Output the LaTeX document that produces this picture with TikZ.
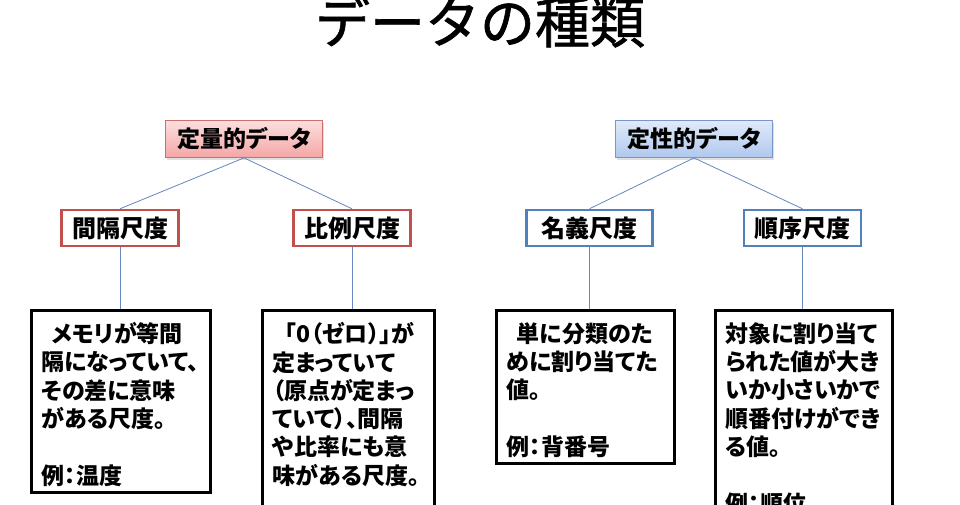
\documentclass[tikz,border=0pt]{standalone}
\usepackage{fontspec}
\newfontfamily\jpfont{Noto Sans CJK JP}[RawFeature=+palt]
\newfontfamily\titlefont{Noto Sans CJK JP}[FakeBold=1.2]
\usepackage{tikz}
\usetikzlibrary{positioning,shadows}
\definecolor{quantedge}{RGB}{205,110,108}
\definecolor{quanttop}{RGB}{252,222,222}
\definecolor{quantbot}{RGB}{244,166,166}
\definecolor{qualedge}{RGB}{120,150,200}
\definecolor{qualtop}{RGB}{224,234,249}
\definecolor{qualbot}{RGB}{176,200,238}
\definecolor{redframe}{RGB}{192,80,77}
\definecolor{blueframe}{RGB}{79,129,189}
\definecolor{linkblue}{RGB}{100,135,190}
\newcommand{\desctext}[3]{\parbox[t][#2][t]{#1}{#3}}
\tikzset{
  titletext/.style={
    anchor=base,
    inner sep=0pt,
    font=\titlefont\fontsize{55}{60}\selectfont
  },
  topbox/.style={
    draw,
    line width=0.8pt,
    minimum width=157pt,
    minimum height=37pt,
    inner sep=0pt,
    drop shadow={shadow xshift=1.5pt, shadow yshift=-2pt, opacity=0.25},
    font=\jpfont\bfseries\fontsize{23}{28}\selectfont
  },
  quantbox/.style={
    topbox,
    draw=quantedge,
    top color=quanttop,
    bottom color=quantbot
  },
  qualbox/.style={
    topbox,
    draw=qualedge,
    top color=qualtop,
    bottom color=qualbot
  },
  scalebox/.style={
    draw,
    line width=2.5pt,
    fill=white,
    minimum width=117pt,
    minimum height=36pt,
    inner sep=0pt,
    font=\jpfont\bfseries\fontsize{24}{28}\selectfont
  },
  descbox/.style={
    draw,
    line width=2.5pt,
    fill=white,
    inner xsep=10pt,
    inner ysep=12pt,
    font=\jpfont\bfseries\fontsize{23}{28.3}\selectfont
  },
  treeline/.style={
    draw=linkblue,
    line width=0.8pt
  }
}
\begin{document}
\begin{tikzpicture}[x=1pt,y=-1pt]
    \useasboundingbox (0,0) rectangle (960,504);
    \node[titletext] (title) at (480,43) {データの種類};

    \node[quantbox] (quant) at (244,139) {定量的データ};
    \node[qualbox] (qual) at (694,139) {定性的データ};

    \node[scalebox, draw=redframe] (interval) at (120,228) {間隔尺度};
    \node[scalebox, draw=redframe] (ratio) at (352,228) {比例尺度};
    \node[scalebox, draw=blueframe, minimum width=126pt] (nominal) at (589.5,228) {名義尺度};
    \node[scalebox, draw=blueframe] (ordinal) at (802.5,228) {順序尺度};

    \node[descbox, below=62pt of interval, xshift=1pt] (intdesc) {\desctext{159pt}{158pt}{%
      \hspace{0.45em}メモリが等間\\
      隔になっていて、\\
      その差に意味\\
      がある尺度。\\[28.3pt]
      例：温度}};
    \node[descbox, below=62pt of ratio, xshift=-3.5pt] (ratdesc) {\desctext{152pt}{191pt}{%
      \hspace{0.55em}「0（ゼロ）」が\\
      定まっていて\\
      （原点が定まっ\\
      ていて）、間隔\\
      や比率にも意\\
      味がある尺度。}};
    \node[descbox, below=62pt of nominal, xshift=-4pt] (nomdesc) {\desctext{158pt}{129pt}{%
      \hspace{0.45em}単に分類のた\\
      めに割り当てた\\
      値。\\[28.3pt]
      例：背番号}};
    \node[descbox, below=62pt of ordinal, xshift=1.5pt] (orddesc) {\desctext{157pt}{191pt}{%
      対象に割り当て\\
      られた値が大き\\
      いか小さいかで\\
      順番付けができ\\
      る値。\\[28.3pt]
      例：順位}};

    \draw[treeline] (quant.south) -- (interval.north);
    \draw[treeline] (quant.south) -- (ratio.north);
    \draw[treeline] (qual.south) -- (nominal.north);
    \draw[treeline] (qual.south) -- (ordinal.north);
    \draw[treeline] (interval.south) -- (interval.south |- intdesc.north);
    \draw[treeline] (ratio.south) -- (ratio.south |- ratdesc.north);
    \draw[treeline] (nominal.south) -- (nominal.south |- nomdesc.north);
    \draw[treeline] (ordinal.south) -- (ordinal.south |- orddesc.north);
  \end{tikzpicture}
\end{document}
